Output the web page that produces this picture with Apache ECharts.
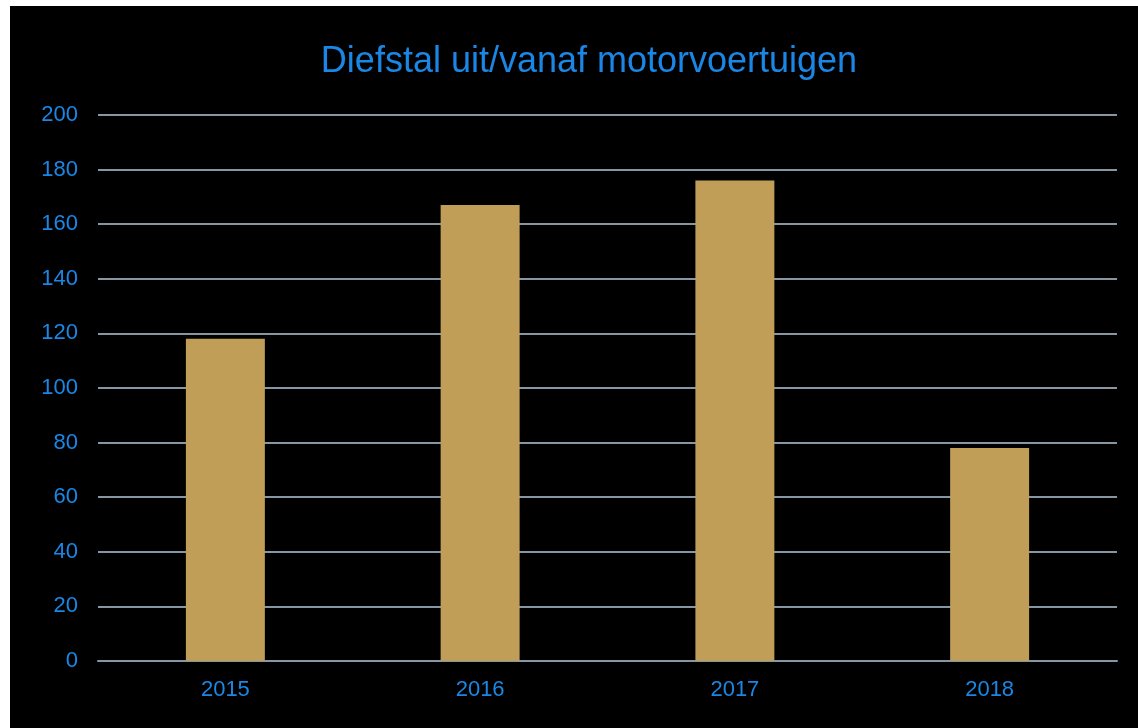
<!DOCTYPE html>
<html>
<head>
<meta charset="utf-8">
<script src="https://cdn.jsdelivr.net/npm/echarts@6/dist/echarts.min.js"></script>
<style>
  html, body { margin: 0; padding: 0; background: #fff; }
  #chart { position: absolute; left: 10px; top: 6px; width: 1128px; height: 722px; background: #000; }
</style>
</head>
<body>
<div id="chart"></div>
<script>
var years = ['2015', '2016', '2017', '2018'];
var diefstal = [118, 167, 176, 78];
var yTicks = { min: 0, max: 200, interval: 20 };

var chart = echarts.init(document.getElementById('chart'));
chart.setOption({
    backgroundColor: '#000',
    title: {
        text: 'Diefstal uit/vanaf motorvoertuigen',
        left: 574,
        textAlign: 'center',
        top: 33,
        textStyle: {
            color: '#1a87e6',
            fontFamily: 'Liberation Sans',
            fontSize: 36,
            fontWeight: 'normal'
        }
    },
    grid: { left: 88, right: 21, top: 109, bottom: 67 },
    xAxis: {
        type: 'category',
        data: years,
        axisLine: { lineStyle: { color: '#8796a3', width: 2 } },
        axisTick: { show: false },
        axisLabel: {
            color: '#1a87e6',
            fontFamily: 'Liberation Sans',
            fontSize: 22,
            margin: 18
        }
    },
    yAxis: {
        type: 'value',
        min: yTicks.min,
        max: yTicks.max,
        interval: yTicks.interval,
        axisLine: { show: false },
        axisTick: { show: false },
        splitLine: { lineStyle: { color: '#8796a3', width: 2 } },
        axisLabel: {
            color: '#1a87e6',
            fontFamily: 'Liberation Sans',
            fontSize: 22,
            margin: 20
        }
    },
    series: [{
        type: 'bar',
        data: diefstal,
        barWidth: '31%',
        itemStyle: { color: '#c09e58' }
    }]
});
</script>
</body>
</html>
